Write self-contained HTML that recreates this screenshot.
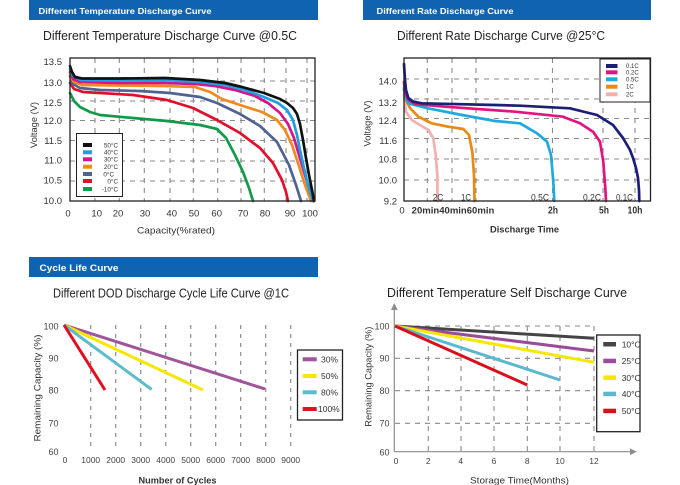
<!DOCTYPE html>
<html><head><meta charset="utf-8"><style>
html,body{margin:0;padding:0;background:#fff;}
svg{display:block;}
text{font-family:"Liberation Sans","DejaVu Sans",sans-serif;}
</style></head><body>
<svg width="680" height="485" viewBox="0 0 680 485" xmlns="http://www.w3.org/2000/svg">
<rect width="680" height="485" fill="#fff"/>

<!-- ===== Header bars ===== -->
<rect x="29" y="0" width="289" height="20" fill="#0f63b0"/>
<text x="38.5" y="14" font-size="8.5" font-weight="bold" fill="#fff" textLength="173" lengthAdjust="spacingAndGlyphs">Different Temperature Discharge Curve</text>
<rect x="363" y="0" width="288" height="20" fill="#0f63b0"/>
<text x="376.5" y="14" font-size="8.5" font-weight="bold" fill="#fff" textLength="137" lengthAdjust="spacingAndGlyphs">Different Rate Discharge Curve</text>
<rect x="29" y="257" width="289" height="20" fill="#0f63b0"/>
<text x="39.5" y="271" font-size="9.5" font-weight="bold" fill="#fff" textLength="79" lengthAdjust="spacingAndGlyphs">Cycle Life Curve</text>

<!-- ===== Titles ===== -->
<text x="43" y="40" font-size="12.5" fill="#222" textLength="254" lengthAdjust="spacingAndGlyphs">Different Temperature Discharge Curve @0.5C</text>
<text x="397" y="40" font-size="12.5" fill="#222" textLength="208" lengthAdjust="spacingAndGlyphs">Different Rate Discharge Curve @25°C</text>
<text x="53" y="297.5" font-size="12.5" fill="#222" textLength="236" lengthAdjust="spacingAndGlyphs">Different DOD Discharge Cycle Life Curve @1C</text>
<text x="387" y="297" font-size="12.5" fill="#222" textLength="240" lengthAdjust="spacingAndGlyphs">Different Temperature Self Discharge Curve</text>

<!-- ===== Chart 1 ===== -->
<g stroke="#8a8a8a" stroke-width="1.1" stroke-dasharray="5,5" fill="none">
  <line x1="70" y1="81" x2="315" y2="81"/>
  <line x1="70" y1="101" x2="315" y2="101"/>
  <line x1="70" y1="120.5" x2="315" y2="120.5"/>
  <line x1="70" y1="140.5" x2="315" y2="140.5"/>
  <line x1="70" y1="161" x2="315" y2="161"/>
  <line x1="70" y1="181" x2="315" y2="181"/>
  <line x1="95" y1="58" x2="95" y2="201"/>
  <line x1="119.3" y1="58" x2="119.3" y2="201"/>
  <line x1="144.3" y1="58" x2="144.3" y2="201"/>
  <line x1="170" y1="58" x2="170" y2="201"/>
  <line x1="193.3" y1="58" x2="193.3" y2="201"/>
  <line x1="217.7" y1="58" x2="217.7" y2="201"/>
  <line x1="241" y1="58" x2="241" y2="201"/>
  <line x1="264.3" y1="58" x2="264.3" y2="201"/>
  <line x1="286" y1="58" x2="286" y2="201"/>
  <line x1="307" y1="58" x2="307" y2="201"/>
</g>
<g fill="none" stroke-width="2.7" stroke-linejoin="round" stroke-linecap="round">
  <path stroke="#119a4a" d="M70,93 L74,101 L80,107 L90,112 L100,115 L133,118 L167,121 L200,125 L217,129 L226,138 L235,155 L243,172 L249,188 L253,201"/>
  <path stroke="#e0102a" d="M70,83 L74,89 L83,92 L133,95 L167,100 L193,108 L217,120 L240,133 L260,148 L273,163 L282,180 L286,192 L288,201"/>
  <path stroke="#4f6393" d="M70,76 L73,84 L80,88 L100,90 L140,91 L170,93 L200,97 L217,103 L240,114 L260,126 L277,142 L289,165 L296,185 L301,201"/>
  <path stroke="#f08a1e" d="M70,76 L74,82 L82,85 L120,85.5 L165,86 L195,87 L210,92 L222,99 L240,105 L262,112 L277,120 L285,130 L292,145 L298,163 L304,182 L311,201"/>
  <path stroke="#d4148a" d="M70,72 L73,79 L80,82 L120,83 L165,83 L195,84 L215,86 L235,90 L255,96 L268,103 L280,113 L288,124 L294,138 L299,155 L304,172 L309,188 L313,201"/>
  <path stroke="#1ea0e0" d="M70,69 L73,76 L80,80 L120,80.5 L165,80 L200,82 L225,85 L245,90 L264,97 L278,103 L287,110 L293,120 L297,135 L300,150 L304,168 L308,185 L313,201"/>
  <path stroke="#111" d="M70,66 L72,72 L75,77 L82,78.5 L120,78.5 L165,78 L200,80 L225,83 L242,87 L264,93 L280,99 L287,103 L293,108 L297,114 L300,124 L303,140 L306,158 L309,175 L312,190 L314,201"/>
</g>
<rect x="70" y="58" width="245" height="143" fill="none" stroke="#222" stroke-width="1.3"/>
<!-- legend 1 -->
<rect x="76.5" y="133.5" width="46" height="63" fill="#fff" stroke="#222" stroke-width="1"/>
<g>
  <rect x="83" y="143" width="9" height="4" fill="#111"/>
  <rect x="83" y="150.3" width="9" height="4" fill="#1ea0e0"/>
  <rect x="83" y="157.3" width="9" height="4" fill="#d4148a"/>
  <rect x="83" y="164.7" width="9" height="4" fill="#f08a1e"/>
  <rect x="83" y="172" width="9" height="4" fill="#4f6393"/>
  <rect x="83" y="179" width="9" height="4" fill="#e0102a"/>
  <rect x="83" y="187" width="9" height="4" fill="#119a4a"/>
</g>
<g font-size="6.3" fill="#333" text-anchor="end">
  <text x="118" y="147.3">50°C</text>
  <text x="118" y="154.6">40°C</text>
  <text x="118" y="161.6">30°C</text>
  <text x="118" y="169">20°C</text>
  <text x="114" y="176.3">0°C</text>
  <text x="118" y="183.3">0°C</text>
  <text x="118" y="191.3">-10°C</text>
</g>
<g font-size="9.5" fill="#333" text-anchor="end">
  <text x="62" y="65">13.5</text>
  <text x="62" y="86">13.0</text>
  <text x="62" y="106">12.5</text>
  <text x="62" y="124">12.0</text>
  <text x="62" y="144">11.5</text>
  <text x="62" y="163.5">11.0</text>
  <text x="62" y="183.5">10.5</text>
  <text x="62" y="204">10.0</text>
</g>
<g font-size="9.5" fill="#333" text-anchor="middle">
  <text x="68" y="216.5">0</text>
  <text x="96.7" y="216.5">10</text>
  <text x="118" y="216.5">20</text>
  <text x="145" y="216.5">30</text>
  <text x="171.7" y="216.5">40</text>
  <text x="194" y="216.5">50</text>
  <text x="216.7" y="216.5">60</text>
  <text x="243" y="216.5">70</text>
  <text x="265" y="216.5">80</text>
  <text x="290" y="216.5">90</text>
  <text x="310" y="216.5">100</text>
</g>
<text transform="translate(37,125) rotate(-90)" font-size="9" fill="#333" text-anchor="middle" textLength="46" lengthAdjust="spacingAndGlyphs">Voltage (V)</text>
<text x="176" y="233.5" font-size="9.5" fill="#333" text-anchor="middle" textLength="78" lengthAdjust="spacingAndGlyphs">Capacity(%rated)</text>

<!-- ===== Chart 2 ===== -->
<g stroke="#8a8a8a" stroke-width="1.1" stroke-dasharray="5,5" fill="none">
  <line x1="404" y1="79" x2="650" y2="79"/>
  <line x1="404" y1="99" x2="650" y2="99"/>
  <line x1="404" y1="118.5" x2="650" y2="118.5"/>
  <line x1="404" y1="138.5" x2="650" y2="138.5"/>
  <line x1="404" y1="159" x2="650" y2="159"/>
  <line x1="404" y1="180" x2="650" y2="180"/>
  <line x1="427.3" y1="58" x2="427.3" y2="201"/>
  <line x1="452" y1="58" x2="452" y2="201"/>
  <line x1="476" y1="58" x2="476" y2="201"/>
  <line x1="552.5" y1="58" x2="552.5" y2="201"/>
  <line x1="603" y1="58" x2="603" y2="201"/>
  <line x1="635" y1="58" x2="635" y2="201"/>
</g>
<g fill="none" stroke-width="2.7" stroke-linejoin="round" stroke-linecap="round">
  <path stroke="#f2b1b1" d="M404,95 L406,111.7 L411.7,120 L420,125 L428.3,130 L433.3,138.3 L435.7,155 L437.3,175 L437.5,201"/>
  <path stroke="#e98a12" d="M404,90 L406,100 L410,108 L418.3,116.7 L431.7,123.3 L448.3,126.7 L463.3,129 L469,135 L472.3,151.7 L474,175 L474.5,201"/>
  <path stroke="#20a8e0" d="M404,88 L405,96 L408.3,103.3 L428,108.3 L462,115 L495,121 L520,123.3 L537,133.3 L547,141.7 L551,155 L553.3,181.7 L554.3,201"/>
  <path stroke="#e0157f" d="M404,82 L405,92 L408.3,100 L415,104 L445,106.7 L515,111.7 L563,116.7 L580,123.3 L593,131.7 L600,141.7 L603.3,161.7 L605.3,188 L606,201"/>
  <path stroke="#1c1f7a" d="M404,64 L405,80 L406,90 L408.3,98 L413,101.5 L421.7,103.3 L495,105 L520,105.7 L570,108.3 L597,115 L613,125 L623,138 L630,150 L633,158 L636,168 L638,178 L639,190 L639.3,201"/>
</g>
<rect x="404" y="58" width="246.5" height="143" fill="none" stroke="#222" stroke-width="1.3"/>
<!-- legend 2 -->
<rect x="600" y="59" width="50" height="43" fill="#fff" stroke="#222" stroke-width="1"/>
<rect x="606" y="64" width="11.5" height="4" fill="#1c1f7a"/>
<rect x="606" y="70.3" width="11.5" height="4" fill="#e0157f"/>
<rect x="606" y="77.3" width="11.5" height="4" fill="#20a8e0"/>
<rect x="606" y="84.7" width="11.5" height="4" fill="#e98a12"/>
<rect x="606" y="92.3" width="11.5" height="4" fill="#f2b1b1"/>
<g font-size="6" fill="#333">
  <text x="626" y="68">0.1C</text>
  <text x="626" y="74.3">0.2C</text>
  <text x="626" y="81.3">0.5C</text>
  <text x="626" y="88.7">1C</text>
  <text x="626" y="96.3">2C</text>
</g>
<g font-size="9" fill="#333">
  <text x="432.7" y="200.5" textLength="10.6" lengthAdjust="spacingAndGlyphs">2C</text>
  <text x="461" y="200.5" textLength="10" lengthAdjust="spacingAndGlyphs">1C</text>
  <text x="531" y="200.5" textLength="18" lengthAdjust="spacingAndGlyphs">0.5C</text>
  <text x="583" y="200.5" textLength="18" lengthAdjust="spacingAndGlyphs">0.2C</text>
  <text x="616" y="200.5" textLength="17" lengthAdjust="spacingAndGlyphs">0.1C</text>
</g>
<g font-size="9.5" fill="#333" text-anchor="end">
  <text x="397" y="84.5">14.0</text>
  <text x="397" y="106">13.2</text>
  <text x="397" y="124">12.4</text>
  <text x="397" y="144">11.6</text>
  <text x="397" y="162.5">10.8</text>
  <text x="397" y="183.5">10.0</text>
  <text x="397" y="204.5">9.2</text>
</g>
<text x="402" y="213.5" font-size="9.5" fill="#333" text-anchor="middle">0</text>
<g font-size="10" fill="#333" font-weight="bold">
  <text x="411.7" y="213.5" font-size="9.5" textLength="82.6" lengthAdjust="spacingAndGlyphs">20min40min60min</text>
  <text x="548" y="213.5" textLength="10" lengthAdjust="spacingAndGlyphs">2h</text>
  <text x="599" y="213.5" textLength="10" lengthAdjust="spacingAndGlyphs">5h</text>
  <text x="627.5" y="213.5" textLength="15" lengthAdjust="spacingAndGlyphs">10h</text>
</g>
<text transform="translate(370.5,123.5) rotate(-90)" font-size="9" fill="#333" text-anchor="middle" textLength="46" lengthAdjust="spacingAndGlyphs">Voltage (V)</text>
<text x="524.5" y="232.5" font-size="9.5" fill="#333" font-weight="bold" text-anchor="middle" textLength="69" lengthAdjust="spacingAndGlyphs">Discharge Time</text>

<!-- ===== Chart 3 ===== -->
<g stroke="#8a8a8a" stroke-width="1.2" stroke-dasharray="4,5" fill="none">
  <line x1="90.7" y1="325" x2="90.7" y2="450"/>
  <line x1="115.7" y1="325" x2="115.7" y2="450"/>
  <line x1="140.7" y1="325" x2="140.7" y2="450"/>
  <line x1="165.7" y1="325" x2="165.7" y2="450"/>
  <line x1="190.7" y1="325" x2="190.7" y2="450"/>
  <line x1="215.7" y1="325" x2="215.7" y2="450"/>
  <line x1="240.7" y1="325" x2="240.7" y2="450"/>
  <line x1="265.7" y1="325" x2="265.7" y2="450"/>
  <line x1="290.7" y1="325" x2="290.7" y2="450"/>
</g>
<g stroke-width="3" stroke-linecap="butt" fill="none">
  <line x1="64" y1="325" x2="265" y2="389" stroke="#a0549a"/>
  <line x1="64" y1="325" x2="203" y2="390" stroke="#f7e600"/>
  <line x1="64" y1="325" x2="151.7" y2="389.5" stroke="#5bbccc"/>
  <line x1="64" y1="325" x2="105" y2="390" stroke="#e0101e"/>
</g>
<g font-size="9" fill="#444" text-anchor="end">
  <text x="58.5" y="329.5">100</text>
  <text x="58.5" y="361.5">90</text>
  <text x="58.5" y="393.5">80</text>
  <text x="58.5" y="426.5">70</text>
  <text x="58.5" y="455">60</text>
</g>
<g font-size="8.5" fill="#444" text-anchor="middle">
  <text x="65" y="463">0</text>
  <text x="90.7" y="463">1000</text>
  <text x="115.7" y="463">2000</text>
  <text x="140.7" y="463">3000</text>
  <text x="165.7" y="463">4000</text>
  <text x="190.7" y="463">5000</text>
  <text x="215.7" y="463">6000</text>
  <text x="240.7" y="463">7000</text>
  <text x="265.7" y="463">8000</text>
  <text x="290.7" y="463">9000</text>
</g>
<text transform="translate(40.5,388) rotate(-90)" font-size="9.5" fill="#333" text-anchor="middle" textLength="107" lengthAdjust="spacingAndGlyphs">Remaining Capacity (%)</text>
<text x="177.5" y="483.5" font-size="9.5" fill="#333" font-weight="bold" text-anchor="middle" textLength="78" lengthAdjust="spacingAndGlyphs">Number of Cycles</text>
<rect x="297.5" y="350" width="45" height="70" fill="#fff" stroke="#222" stroke-width="1.3"/>
<rect x="302.7" y="357.3" width="14" height="4" fill="#a0549a"/>
<rect x="302.7" y="374" width="14" height="4" fill="#f7e600"/>
<rect x="302.7" y="390.3" width="14" height="4" fill="#5bbccc"/>
<rect x="302.7" y="407" width="14" height="4" fill="#e0101e"/>
<g font-size="8.5" fill="#333">
  <text x="321" y="362.5">30%</text>
  <text x="321" y="379">50%</text>
  <text x="321" y="395.5">80%</text>
  <text x="318" y="412">100%</text>
</g>

<!-- ===== Chart 4 ===== -->
<g stroke="#8a8a8a" stroke-width="1.1" stroke-dasharray="5,5" fill="none">
  <line x1="395" y1="326" x2="594" y2="326"/>
  <line x1="395" y1="358.3" x2="594" y2="358.3"/>
  <line x1="395" y1="390.7" x2="594" y2="390.7"/>
  <line x1="395" y1="423.3" x2="594" y2="423.3"/>
  <line x1="428.3" y1="326" x2="428.3" y2="451"/>
  <line x1="461" y1="326" x2="461" y2="451"/>
  <line x1="494" y1="326" x2="494" y2="451"/>
  <line x1="527.3" y1="326" x2="527.3" y2="451"/>
  <line x1="560" y1="326" x2="560" y2="451"/>
  <line x1="594" y1="326" x2="594" y2="451"/>
</g>
<g stroke="#8c8c8c" stroke-width="1.2" fill="none">
  <line x1="394.3" y1="309" x2="394.3" y2="451.7"/>
  <line x1="394.3" y1="451.7" x2="631" y2="451.7"/>
</g>
<polygon points="394.3,303 391,310 397.6,310" fill="#8c8c8c"/>
<polygon points="637,451.7 630,448.4 630,455" fill="#8c8c8c"/>
<g stroke-width="3" fill="none" stroke-linecap="butt">
  <line x1="395" y1="326" x2="594" y2="338.3" stroke="#444"/>
  <line x1="395" y1="326" x2="594" y2="351" stroke="#9a4c9a"/>
  <line x1="395" y1="326" x2="594" y2="362.3" stroke="#f7e600"/>
  <line x1="395" y1="326" x2="560" y2="380" stroke="#5ab8cc"/>
  <line x1="395" y1="326" x2="527.3" y2="385" stroke="#d8101e"/>
</g>
<g font-size="9" fill="#444" text-anchor="end">
  <text x="389.5" y="329.5">100</text>
  <text x="389.5" y="361.5">90</text>
  <text x="389.5" y="394">80</text>
  <text x="389.5" y="426.5">70</text>
  <text x="389.5" y="455.5">60</text>
</g>
<g font-size="8.5" fill="#444" text-anchor="middle">
  <text x="396" y="464">0</text>
  <text x="428.3" y="464">2</text>
  <text x="460.7" y="464">4</text>
  <text x="494" y="464">6</text>
  <text x="527.3" y="464">8</text>
  <text x="560" y="464">10</text>
  <text x="594" y="464">12</text>
</g>
<text transform="translate(371.5,376.7) rotate(-90)" font-size="9.5" fill="#333" text-anchor="middle" textLength="100" lengthAdjust="spacingAndGlyphs">Remaining Capacity (%)</text>
<text x="519.5" y="483.5" font-size="9.5" fill="#333" text-anchor="middle" textLength="99" lengthAdjust="spacingAndGlyphs">Storage Time(Months)</text>
<rect x="596.7" y="335" width="43.3" height="96.7" fill="#fff" stroke="#222" stroke-width="1.3"/>
<rect x="603.3" y="342" width="12.7" height="4.5" fill="#444"/>
<rect x="603.3" y="358.7" width="12.7" height="4.5" fill="#9a4c9a"/>
<rect x="603.3" y="375.4" width="12.7" height="4.5" fill="#f7e600"/>
<rect x="603.3" y="391.7" width="12.7" height="4.5" fill="#5ab8cc"/>
<rect x="603.3" y="408.7" width="12.7" height="4.5" fill="#d8101e"/>
<g font-size="8.5" fill="#333">
  <text x="621.7" y="347.5">10°C</text>
  <text x="621.7" y="364.2">25°C</text>
  <text x="621.7" y="380.9">30°C</text>
  <text x="621.7" y="397.2">40°C</text>
  <text x="621.7" y="414.2">50°C</text>
</g>
</svg>
</body></html>
